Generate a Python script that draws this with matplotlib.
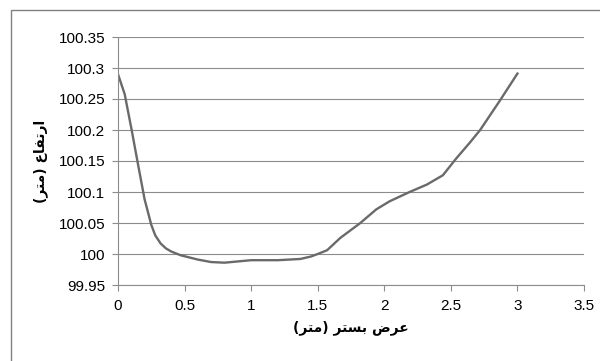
import matplotlib
matplotlib.use('Agg')
import matplotlib.pyplot as plt
from matplotlib.patches import Rectangle


# width of bed (m) and height (m)
width_m = [0, 0.05, 0.1, 0.15, 0.2, 0.25, 0.28, 0.32, 0.36, 0.4, 0.47, 0.6, 0.7,
           0.8, 1.0, 1.2, 1.37, 1.45, 1.5, 1.57, 1.67, 1.82, 1.94, 2.04, 2.19,
           2.32, 2.44, 2.54, 2.64, 2.72, 2.87, 3.0]
height_m = [100.29, 100.258, 100.203, 100.145, 100.088, 100.047, 100.03, 100.017,
            100.009, 100.004, 99.998, 99.991, 99.987, 99.986, 99.99, 99.99, 99.992,
            99.996, 100.0, 100.006, 100.026, 100.05, 100.072, 100.085, 100.1,
            100.112, 100.127, 100.154, 100.179, 100.2, 100.248, 100.291]

x_ticks = [0, 0.5, 1, 1.5, 2, 2.5, 3, 3.5]
y_ticks = [99.95, 100, 100.05, 100.1, 100.15, 100.2, 100.25, 100.3, 100.35]

x_title = 'عرض بستر (متر)'
y_title = 'ارتفاع (متر)'


# matplotlib has no Arabic shaping, so pick presentation forms by hand
# letter: (isolated, final, initial, medial)
FORMS = {
    'ا': (0xFE8D, 0xFE8E, None, None),
    'ر': (0xFEAD, 0xFEAE, None, None),
    'ب': (0xFE8F, 0xFE90, 0xFE91, 0xFE92),
    'ت': (0xFE95, 0xFE96, 0xFE97, 0xFE98),
    'س': (0xFEB1, 0xFEB2, 0xFEB3, 0xFEB4),
    'ض': (0xFEBD, 0xFEBE, 0xFEBF, 0xFEC0),
    'ع': (0xFEC9, 0xFECA, 0xFECB, 0xFECC),
    'ف': (0xFED1, 0xFED2, 0xFED3, 0xFED4),
    'م': (0xFEE1, 0xFEE2, 0xFEE3, 0xFEE4),
}
MIRROR = {'(': ')', ')': '('}


def joins_next(ch):
    return ch in FORMS and FORMS[ch][2] is not None


def shape(text):
    out = []
    for i, ch in enumerate(text):
        if ch not in FORMS:
            out.append(MIRROR.get(ch, ch))
            continue
        prev_joins = i > 0 and joins_next(text[i - 1])
        next_joins = i + 1 < len(text) and text[i + 1] in FORMS and joins_next(ch)
        iso, fin, ini, med = FORMS[ch]
        if prev_joins and next_joins:
            code = med
        elif prev_joins:
            code = fin
        elif next_joins:
            code = ini
        else:
            code = iso
        out.append(chr(code))
    return ''.join(reversed(out))


plt.rcParams['font.family'] = ['Liberation Sans', 'DejaVu Sans']

fig = plt.figure(figsize=(6, 3.61), dpi=100)
ax = fig.add_axes([118 / 600, 1 - 285 / 361, (584 - 118) / 600, (285 - 37) / 361])

ax.plot(width_m, height_m, color='#6a6a6a', lw=1.7, solid_joinstyle='round')

ax.set_xlim(0, 3.5)
ax.set_ylim(99.95, 100.35)
ax.set_xticks(x_ticks)
ax.set_xticklabels(['{:g}'.format(t) for t in x_ticks])
ax.set_yticks(y_ticks)
ax.set_yticklabels(['{:g}'.format(t) for t in y_ticks])
ax.grid(axis='y', color='#8c8c8c', lw=0.8)
ax.set_axisbelow(True)

for side in ('top', 'right'):
    ax.spines[side].set_visible(False)
for side in ('left', 'bottom'):
    ax.spines[side].set_color('#8c8c8c')
    ax.spines[side].set_linewidth(0.8)
ax.tick_params(axis='both', direction='out', length=4, width=0.8, color='#8c8c8c',
               labelsize=11, labelcolor='black')
ax.tick_params(axis='x', pad=6)
ax.tick_params(axis='y', pad=5)

ax.set_xlabel(shape(x_title), family=['DejaVu Sans'], fontsize=10,
              fontweight='bold', labelpad=5)
ax.set_ylabel(shape(y_title), family=['DejaVu Sans'], fontsize=10,
              fontweight='bold', labelpad=8)

# chart area frame
fig.patches.append(Rectangle((11 / 600, -0.5), 1.5, 1 - 10 / 361 + 0.5,
                             transform=fig.transFigure, fill=False,
                             edgecolor='#808080', lw=1.0))

fig.savefig('out.png', dpi=100)
